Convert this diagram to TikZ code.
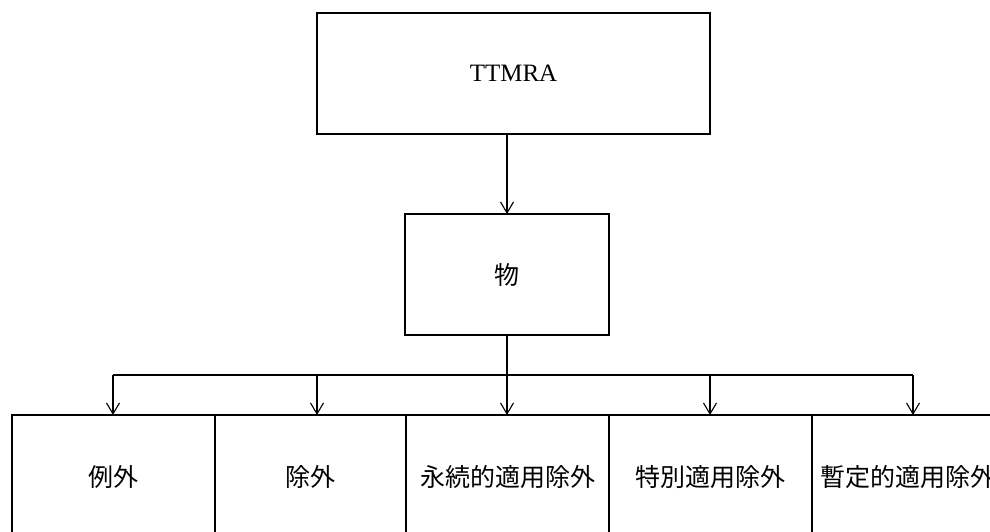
\documentclass[tikz,border=0pt]{standalone}
\usepackage{fontspec}
\setmainfont{Liberation Serif}
\newfontfamily\cjk{Noto Sans CJK JP}
\usetikzlibrary{arrows.meta}

\tikzset{
  box/.style={draw, line width=1.1pt, rectangle, inner sep=0pt, outer sep=0pt,
    font=\fontsize{25}{30}\selectfont},
  jbox/.style={box, font=\cjk\fontsize{25}{30}\selectfont},
  link/.style={line width=1.1pt},
  arrowlink/.style={link, -{Straight Barb[length=11pt,width=13pt,line width=1.1pt]}},
}

\begin{document}
\begin{tikzpicture}[x=1pt, y=-1pt]
  \useasboundingbox (0,0) rectangle (990,531);
  \clip (0,0) rectangle (990,531);

  % top level
  \node[box, minimum width=393pt, minimum height=121pt] (tt) at (513.5,73.5) {TTMRA};
  \node[jbox, minimum width=204pt, minimum height=121pt] (m) at (507,274.5) {物};

  % bottom row of categories
  \node[jbox, minimum width=203pt, minimum height=124pt] (c1) at (113.5,477) {例外};
  \node[jbox, minimum width=191pt, minimum height=124pt] (c2) at (310.5,477) {除外};
  \node[jbox, minimum width=203pt, minimum height=124pt] (c3) at (507.5,477) {永続的適用除外};
  \node[jbox, minimum width=203pt, minimum height=124pt] (c4) at (710.5,477) {特別適用除外};
  \node[jbox, minimum width=203pt, minimum height=124pt, text width=203pt, align=left] (c5) at (913.5,477) {\hspace*{8pt}暫定的適用除外};

  % connectors
  \draw[arrowlink] (m.north |- tt.south) -- (m.north);

  \coordinate (bus) at (507,375);
  \coordinate (b1) at (113,375);
  \coordinate (b2) at (317,375);
  \coordinate (b3) at (507,375);
  \coordinate (b4) at (710,375);
  \coordinate (b5) at (913,375);

  \draw[link] (m.south) -- (bus);
  \draw[link] (b1) -- (b5);
  \draw[arrowlink] (b1) -- (b1 |- c1.north);
  \draw[arrowlink] (b2) -- (b2 |- c2.north);
  \draw[arrowlink] (b3) -- (b3 |- c3.north);
  \draw[arrowlink] (b4) -- (b4 |- c4.north);
  \draw[arrowlink] (b5) -- (b5 |- c5.north);
\end{tikzpicture}
\end{document}
